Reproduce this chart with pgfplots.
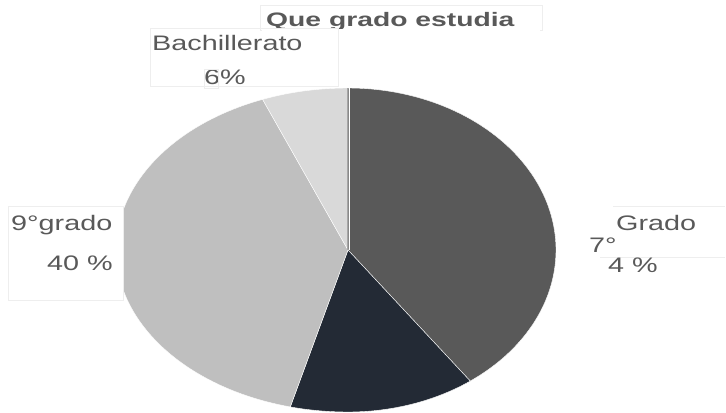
\documentclass[border=0pt]{standalone}
\usepackage{fontspec}
\usepackage{pgfplots}
\usepackage{pgfplotstable}
\pgfplotsset{compat=1.18}
\newfontfamily\lab[FakeStretch=1.37]{Liberation Sans}
\newfontfamily\tit[FakeStretch=1.45]{Liberation Sans}
\definecolor{cA}{HTML}{595959}
\definecolor{cB}{HTML}{232A35}
\definecolor{cC}{HTML}{BFBFBF}
\definecolor{cD}{HTML}{D9D9D9}
\definecolor{txt}{HTML}{595959}
\definecolor{bx}{HTML}{EEEEEE}
\pgfplotstableread{
label value color
7Grado 40 cA
8Grado 14 cB
9grado 40 cC
Bachillerato 6 cD
}\piedata
\begin{document}
\begin{tikzpicture}
\begin{axis}[
  scale only axis, width=726pt, height=412pt,
  xmin=0, xmax=726, ymin=0, ymax=412, y dir=reverse,
  axis lines=none, clip=false,
]
\path (axis cs:0,0) rectangle (axis cs:726,412);
\def\s{90}
\pgfplotsforeachungrouped \i in {0,...,3} {
  \pgfplotstablegetelem{\i}{value}\of\piedata \let\v\pgfplotsretval
  \pgfplotstablegetelem{\i}{color}\of\piedata \let\c\pgfplotsretval
  \pgfmathsetmacro\e{\s-3.6*\v}
  \edef\cmd{\noexpand\addplot[fill=\c, draw=white, line width=0.4pt, domain=\e:\s, samples=90]
    ({348+cos(x)*(cos(x)<0 ? 232 : 208)}, {250-162*sin(x)}) -- (axis cs:348,250) -- cycle;}
  \cmd
  \global\let\s\e
}
\addplot[draw=white, line width=1.2pt] coordinates {(349.2,88) (349.2,250)};
\addplot[draw=gray!70, line width=0.6pt] coordinates {(347.6,88) (347.6,250)};
% label boxes
\draw[bx, fill=white, line width=0.5pt] (axis cs:8,206) rectangle (axis cs:123,300);
\draw[bx, line width=0.5pt] (axis cs:260,5) rectangle (axis cs:542,30);
\draw[bx, line width=0.5pt] (axis cs:613,206) -- (axis cs:725,206);
\draw[bx, line width=0.5pt] (axis cs:600,257) -- (axis cs:725,257);
% texts
\node[anchor=base west, inner sep=0pt, text=txt, font=\tit\bfseries\fontsize{19.5}{23}\selectfont] at (axis cs:266,27) {Que grado estudia};
\fill[white] (axis cs:262,29.5) rectangle (axis cs:540,34);
\draw[bx, line width=0.5pt] (axis cs:150,28) rectangle (axis cs:338,86);
\node[anchor=base west, inner sep=0pt, text=txt, font=\lab\fontsize{21}{25}\selectfont] at (axis cs:152,51) {Bachillerato};
\node[anchor=base west, inner sep=0pt, text=txt, font=\lab\fontsize{21}{25}\selectfont] at (axis cs:204,85) {6\%};
\draw[bx, line width=0.5pt] (axis cs:204,69) rectangle (axis cs:218,88);
\node[anchor=base west, inner sep=0pt, text=txt, font=\lab\fontsize{21}{25}\selectfont] at (axis cs:11,230) {9°grado};
\node[anchor=base west, inner sep=0pt, text=txt, font=\lab\fontsize{21}{25}\selectfont] at (axis cs:47,270) {40 \%};
\node[anchor=base west, inner sep=0pt, text=txt, font=\lab\fontsize{21}{25}\selectfont] at (axis cs:589,252) {7°};
\node[anchor=base west, inner sep=0pt, text=txt, font=\lab\fontsize{21}{25}\selectfont] at (axis cs:616,230) {Grado};
\node[anchor=base west, inner sep=0pt, text=txt, font=\lab\fontsize{21}{25}\selectfont] at (axis cs:608,272) {4 \%};
\end{axis}
\end{tikzpicture}
\end{document}
